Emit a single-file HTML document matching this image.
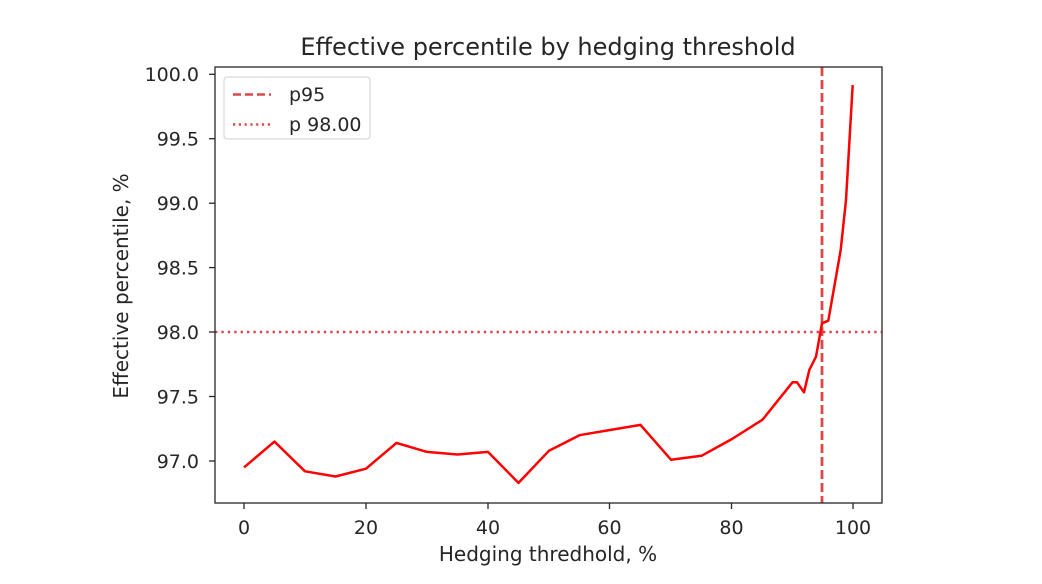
<!DOCTYPE html>
<html><head><meta charset="utf-8"><style>
html,body{margin:0;padding:0;background:#fff;}
svg{display:block;font-family:"DejaVu Sans","Liberation Sans",sans-serif;}
</style></head><body>
<svg width="1042" height="584" viewBox="0 0 1042 584" xmlns="http://www.w3.org/2000/svg">
<rect width="1042" height="584" fill="#fff"/>
<text x="548" y="55" font-size="24" text-anchor="middle" fill="#262626">Effective percentile by hedging threshold</text>
<line x1="215" y1="332" x2="882" y2="332" stroke="#d62728" stroke-opacity="0.85" stroke-width="2.4" stroke-dasharray="2.4,4"/>
<line x1="822" y1="67" x2="822" y2="503" stroke="#d62728" stroke-opacity="0.85" stroke-width="2.8" stroke-dasharray="9,4"/>
<polyline fill="none" stroke="#ff0000" stroke-width="2.5" stroke-linejoin="round"
points="244,467.4 274.5,441.6 305,471.3 335.5,476.5 366,468.7 396.5,442.9 427,451.9 457.5,454.5 488,451.9 518.5,482.9 549,450.7 579.5,435.2 610,430 640.5,424.9 671,459.7 701.5,455.8 732,439 762.5,419.7 792.5,382.3 797,382.3 804,392.3 809.3,370 816,356.7 822,323.3 828.3,320.7 840.7,250 846,200 852.7,85"/>
<rect x="215" y="67" width="667" height="436" fill="none" stroke="#262626" stroke-width="1.3"/>
<g stroke="#262626" stroke-width="1.3">
<line x1="244" y1="503" x2="244" y2="509"/><line x1="366" y1="503" x2="366" y2="509"/><line x1="488" y1="503" x2="488" y2="509"/><line x1="609.5" y1="503" x2="609.5" y2="509"/><line x1="731.5" y1="503" x2="731.5" y2="509"/><line x1="853" y1="503" x2="853" y2="509"/>
<line x1="209" y1="461" x2="215" y2="461"/><line x1="209" y1="396.5" x2="215" y2="396.5"/><line x1="209" y1="332" x2="215" y2="332"/><line x1="209" y1="267.6" x2="215" y2="267.6"/><line x1="209" y1="203.2" x2="215" y2="203.2"/><line x1="209" y1="138.7" x2="215" y2="138.7"/><line x1="209" y1="74.3" x2="215" y2="74.3"/>
</g>
<g font-size="19" fill="#262626" text-anchor="middle">
<text x="244" y="534">0</text><text x="366" y="534">20</text><text x="488" y="534">40</text><text x="609.5" y="534">60</text><text x="731.5" y="534">80</text><text x="853" y="534">100</text>
</g>
<g font-size="19" fill="#262626" text-anchor="end">
<text x="199" y="468">97.0</text><text x="199" y="403.5">97.5</text><text x="199" y="339">98.0</text><text x="199" y="274.5">98.5</text><text x="199" y="210">99.0</text><text x="199" y="145.5">99.5</text><text x="199" y="81">100.0</text>
</g>
<text x="548" y="561" font-size="20" text-anchor="middle" fill="#262626">Hedging thredhold, %</text>
<text transform="translate(128,286) rotate(-90)" font-size="20" text-anchor="middle" fill="#262626">Effective percentile, %</text>
<rect x="224" y="77" width="146" height="62" rx="3" fill="#fff" stroke="#d0d0d0" stroke-width="1"/>
<line x1="233" y1="94.5" x2="271" y2="94.5" stroke="#d62728" stroke-opacity="0.85" stroke-width="2.6" stroke-dasharray="8,4"/>
<line x1="233" y1="124.5" x2="271" y2="124.5" stroke="#d62728" stroke-opacity="0.85" stroke-width="2.4" stroke-dasharray="2.2,3.6"/>
<text x="289" y="101" font-size="19" fill="#262626">p95</text>
<text x="289" y="131" font-size="19" fill="#262626">p 98.00</text>
</svg>
</body></html>
